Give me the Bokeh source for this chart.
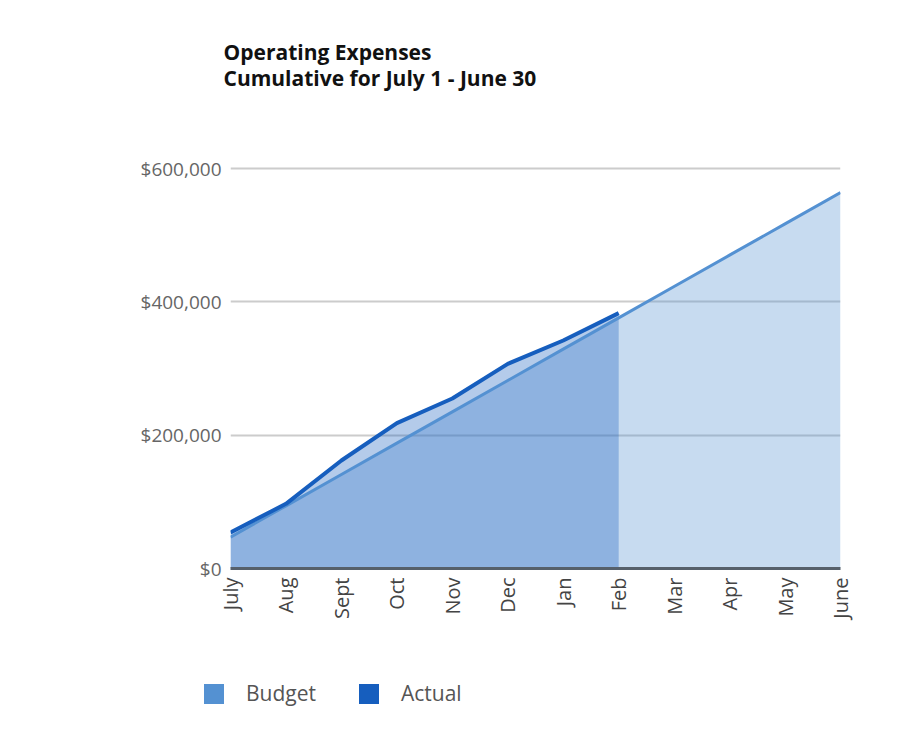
from bokeh.plotting import figure
from bokeh.layouts import column, row
from bokeh.models import Range1d, FixedTicker, NumeralTickFormatter, Label, Legend, LegendItem, ColumnDataSource
from bokeh.embed import file_html
from bokeh.resources import INLINE
import math

months = ["July", "Aug", "Sept", "Oct", "Nov", "Dec", "Jan", "Feb", "Mar", "Apr", "May", "June"]
budget = [47000, 94000, 141000, 188000, 235000, 282000, 329000, 376000, 423000, 470000, 517000, 564000]
actual = [54000, 97000, 162000, 218000, 255000, 307000, 342000, 383000]
y_ticks = [0, 200000, 400000, 600000]
title_lines = ["Operating Expenses", "Cumulative for July 1 - June 30"]
series_names = ["Budget", "Actual"]

FONT = "Open Sans"
BUDGET_C = "#5491d2"
ACTUAL_C = "#165ebe"


def blank(height):
    f = figure(width=906, height=height, output_backend="svg", toolbar_location=None,
               x_range=Range1d(0, 906), y_range=Range1d(0, height),
               min_border=0, outline_line_color=None)
    f.background_fill_color = "white"
    f.border_fill_color = "white"
    f.axis.visible = False
    f.grid.visible = False
    return f


# ---- title strip ----
tf = blank(120)
for i, t in enumerate(title_lines):
    tf.add_layout(Label(x=223, y=69 - i * 26, x_units="screen", y_units="screen", text=t,
                        text_font=FONT, text_font_style="bold", text_font_size="21px",
                        text_color="#111111", text_baseline="alphabetic"))

# ---- main chart ----
idx = list(range(len(months)))
bsrc = ColumnDataSource(dict(x=idx, y=budget, z=[0] * len(budget)))
asrc = ColumnDataSource(dict(x=idx[:len(actual)], y=actual, z=[0] * len(actual)))

p = figure(width=906, height=535, output_backend="svg", toolbar_location=None,
           x_range=Range1d(0, len(months) - 1), y_range=Range1d(0, 603000),
           min_border_left=230, min_border_right=66, min_border_top=46, min_border_bottom=87)
p.outline_line_color = None
p.background_fill_color = "white"
p.border_fill_color = "white"

p.varea(x="x", y1="z", y2="y", source=bsrc, fill_color=BUDGET_C, fill_alpha=0.33)
p.varea(x="x", y1="z", y2="y", source=asrc, fill_color=ACTUAL_C, fill_alpha=0.32)
p.line(x="x", y="y", source=bsrc, line_color=BUDGET_C, line_width=3)
p.line(x="x", y="y", source=asrc, line_color=ACTUAL_C, line_width=4)

p.xaxis.ticker = FixedTicker(ticks=idx)
p.xaxis.major_label_overrides = {i: m for i, m in enumerate(months)}
p.xaxis.major_label_orientation = math.pi / 2
p.xaxis.major_tick_line_color = None
p.xaxis.minor_tick_line_color = None
p.xaxis.axis_line_color = "#56606b"
p.xaxis.axis_line_width = 3
p.xaxis.major_label_text_font = FONT
p.xaxis.major_label_text_font_size = "20px"
p.xaxis.major_label_text_color = "#444444"
p.xaxis.major_label_standoff = 3

p.yaxis.ticker = FixedTicker(ticks=y_ticks)
p.yaxis.formatter = NumeralTickFormatter(format="$0,0")
p.yaxis.major_tick_line_color = None
p.yaxis.minor_tick_line_color = None
p.yaxis.axis_line_color = None
p.yaxis.major_label_text_font = FONT
p.yaxis.major_label_text_font_size = "19px"
p.yaxis.major_label_text_color = "#666666"
p.yaxis.major_label_standoff = 3

p.xgrid.grid_line_color = None
p.ygrid.ticker = FixedTicker(ticks=y_ticks)
p.ygrid.grid_line_color = "#cccccc"
p.ygrid.grid_line_width = 2

# ---- legend strip ----
lg = blank(74)
nan = float("nan")
rb = lg.quad(left=[nan], right=[nan], top=[nan], bottom=[nan], fill_color=BUDGET_C, line_color=None)
ra = lg.quad(left=[nan], right=[nan], top=[nan], bottom=[nan], fill_color=ACTUAL_C, line_color=None)
legend = Legend(items=[LegendItem(label=series_names[0], renderers=[rb]),
                       LegendItem(label=series_names[1], renderers=[ra])],
                orientation="horizontal", location=(201, 22), glyph_width=25, glyph_height=25,
                label_standoff=20, spacing=40, padding=0, margin=0, border_line_color=None,
                background_fill_alpha=0, label_text_font=FONT, label_text_font_size="21px",
                label_text_color="#555555")
lg.add_layout(legend)

open("out.html", "w").write(file_html(column(row(tf, spacing=0), p, row(lg, spacing=0), spacing=0), INLINE))
